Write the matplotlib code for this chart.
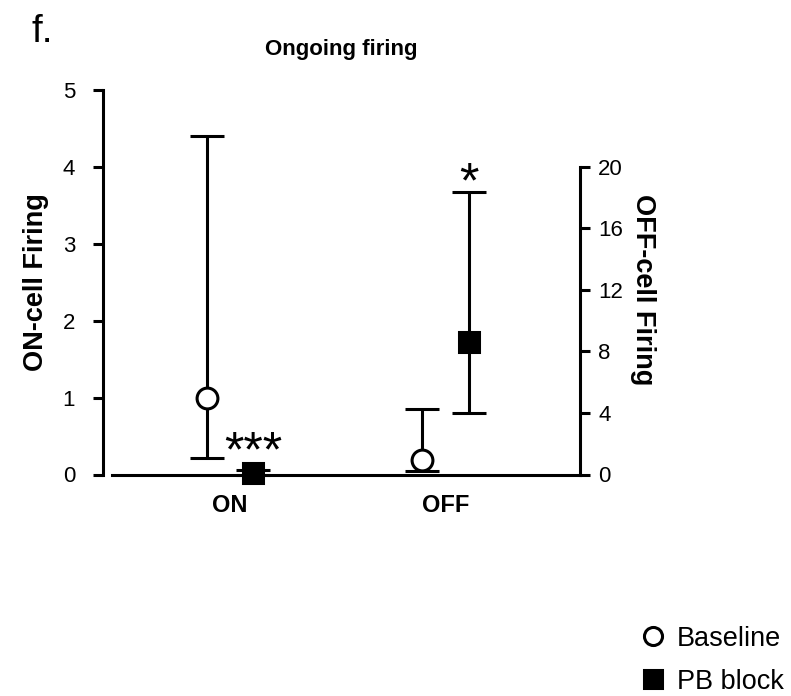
import matplotlib
matplotlib.use('Agg')
import matplotlib.pyplot as plt
from matplotlib.lines import Line2D

plt.rcParams['font.family'] = ['Liberation Sans', 'DejaVu Sans']

# data
groups = ['ON', 'OFF']
group_x = [1, 2]
offset = 0.107

# ON-cells (left axis)
on_mean = [1.0, 0.02]          # baseline, PB block
on_low = [0.22, 0.0]
on_high = [4.4, 0.06]

# OFF-cells (right axis)
off_mean = [0.94, 8.6]
off_low = [0.23, 4.0]
off_high = [4.25, 18.4]

left_ticks = [0, 1, 2, 3, 4, 5]
right_ticks = [0, 4, 8, 12, 16, 20]

fig = plt.figure(figsize=(7.91, 6.96), dpi=100)
ax = fig.add_axes([103/791, 1 - 474.5/696, (580-103)/791, (474.5-90)/696])
ax2 = ax.twinx()

lw = 2.2
kw = dict(color='black', elinewidth=lw, capsize=12, capthick=lw, markersize=15,
          markeredgewidth=2.2, clip_on=False, zorder=5)

# ON group on left axis
xs = [group_x[0] - offset, group_x[0] + offset]
ax.errorbar(xs[0], on_mean[0], yerr=[[on_mean[0]-on_low[0]], [on_high[0]-on_mean[0]]],
            fmt='o', mfc='white', mec='black', **kw)
ax.errorbar(xs[1], on_mean[1], yerr=[[on_mean[1]-on_low[1]], [on_high[1]-on_mean[1]]],
            fmt='s', mfc='black', mec='black', **kw)

# OFF group on right axis
xs = [group_x[1] - offset, group_x[1] + offset]
ax2.errorbar(xs[0], off_mean[0], yerr=[[off_mean[0]-off_low[0]], [off_high[0]-off_mean[0]]],
             fmt='o', mfc='white', mec='black', **kw)
ax2.errorbar(xs[1], off_mean[1], yerr=[[off_mean[1]-off_low[1]], [off_high[1]-off_mean[1]]],
             fmt='s', mfc='black', mec='black', **kw)

# significance marks
ax.text(group_x[0] + offset, 0.1, '***', ha='center', va='baseline', fontsize=36)
ax2.text(group_x[1] + offset, 18.0, '*', ha='center', va='baseline', fontsize=36)

ax.set_xlim(0.411, 2.624)
ax.set_ylim(0, 5)
ax2.set_ylim(0, 25)
ax.set_yticks(left_ticks)
ax2.set_yticks(right_ticks)
ax.set_xticks(group_x)
ax.set_xticklabels(groups, fontsize=17, fontweight='bold')

for a in (ax, ax2):
    a.spines['top'].set_visible(False)
    for s in a.spines.values():
        s.set_linewidth(lw)
    a.tick_params(axis='y', length=7, width=lw, labelsize=16)
    a.tick_params(axis='x', length=0, pad=14)
ax.tick_params(axis='y', pad=13)
ax2.tick_params(axis='y', pad=6)
ax.spines['right'].set_visible(False)
ax2.spines['left'].set_visible(False)
ax2.spines['bottom'].set_visible(False)
ax.spines['bottom'].set_bounds(0.453, 2.624)
ax2.spines['right'].set_bounds(0, 20)
ax.spines['left'].set_bounds(0, 5)

ax.set_ylabel('ON-cell Firing', fontsize=19.5, fontweight='bold', labelpad=10)
ax2.set_ylabel('OFF-cell Firing', fontsize=19.5, fontweight='bold', rotation=270, labelpad=24)
ax2.yaxis.label.set_y(0.48)

fig.text(0.4318, 1 - 50/696, 'Ongoing firing', ha='center', va='center',
         fontsize=16, fontweight='bold')
fig.text(32/791, 1 - 32/696, 'f.', ha='left', va='center', fontsize=28)

handles = [Line2D([], [], marker='o', ls='none', mfc='white', mec='black', ms=13, mew=2.2),
           Line2D([], [], marker='s', ls='none', mfc='black', mec='black', ms=13, mew=2.2)]
fig.legend(handles, ['Baseline', 'PB block'], loc='lower right',
           bbox_to_anchor=(0.993, 0.0), frameon=False, fontsize=19.5,
           handlelength=0.8, handletextpad=0.5, labelspacing=0.63,
           borderaxespad=0.0, borderpad=0.05)

plt.savefig('out.png', dpi=100)
